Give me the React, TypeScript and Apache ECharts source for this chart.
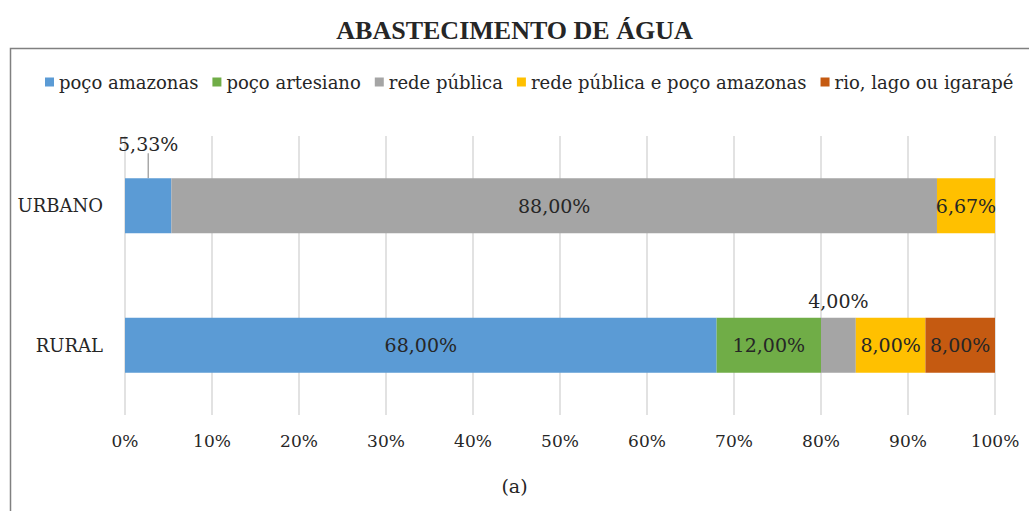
import React, { useEffect, useRef } from "react";
import * as echarts from "echarts";

const title = "ABASTECIMENTO DE ÁGUA";
const subtitle = "(a)";
const categories = ["RURAL", "URBANO"];
const seriesNames = [
  "poço amazonas",
  "poço artesiano",
  "rede pública",
  "rede pública e poço amazonas",
  "rio, lago ou igarapé",
];
const colors = ["#5B9BD5", "#70AD47", "#A5A5A5", "#FFC000", "#C55A11"];
// values per series: [RURAL, URBANO]
const pocoAmazonas = [68.0, 5.33];
const pocoArtesiano = [12.0, 0];
const redePublica = [4.0, 88.0];
const redePocoAmazonas = [8.0, 6.67];
const rioLagoIgarape = [8.0, 0];
const seriesValues = [pocoAmazonas, pocoArtesiano, redePublica, redePocoAmazonas, rioLagoIgarape];
const xTicks = [0, 10, 20, 30, 40, 50, 60, 70, 80, 90, 100];

const TITLE_FONT = "Liberation Serif";
const FONT = "DejaVu Serif";
const fmt = (v: number) => v.toFixed(2).replace(".", ",") + "%";

export default function App() {
  const ref = useRef<HTMLDivElement>(null);
  useEffect(() => {
    document.body.style.margin = "0";
    const chart = echarts.init(ref.current!, null, { renderer: "svg" });
    const series = seriesNames.map((name, si) => {
      const vals = seriesValues[si];
      return {
        name,
        type: "bar",
        stack: "total",
        barWidth: 55,
        itemStyle: { color: colors[si] },
        labelLayout: (p: any) => {
          const v = vals[p.dataIndex];
          if (v && v < 6 && categories[p.dataIndex] === "URBANO") return { dy: -18 };
          return {};
        },
        data: vals.map((v, ci) => {
          if (!v) return { value: 0, label: { show: false }, labelLine: { show: false } };
          const small = v < 6;
          const withLine = small && categories[ci] === "URBANO";
          return {
            value: v,
            label: small
              ? { show: true, position: "top", distance: 7 }
              : { show: true, position: "inside" },
            labelLine: { show: withLine, lineStyle: { color: "#7f7f7f", width: 1 } },
          };
        }),
        label: {
          show: true,
          formatter: (p: any) => fmt(p.value),
          fontFamily: FONT,
          fontSize: 19,
          color: "#262626",
        },
      };
    });
    chart.setOption({
      animation: false,
      textStyle: { fontFamily: FONT },
      title: {
        text: title,
        left: "center",
        top: 12,
        textStyle: { fontFamily: TITLE_FONT, fontSize: 26, fontWeight: "bold", color: "#262626" },
      },
      legend: {
        data: seriesNames,
        left: 40,
        right: 0,
        top: 68,
        icon: "rect",
        itemWidth: 9,
        itemHeight: 9,
        itemGap: 14,
        textStyle: { fontFamily: FONT, fontSize: 18, color: "#262626" },
      },
      grid: { left: 125, right: 34, top: 136, bottom: 96, containLabel: false },
      xAxis: {
        type: "value",
        min: xTicks[0],
        max: xTicks[xTicks.length - 1],
        interval: 10,
        axisLine: { show: false },
        axisTick: { show: false },
        splitLine: { lineStyle: { color: "#d9d9d9", width: 1.5 } },
        axisLabel: {
          formatter: "{value}%",
          fontFamily: FONT,
          fontSize: 17,
          color: "#262626",
          margin: 17,
        },
      },
      yAxis: {
        type: "category",
        data: categories,
        axisLine: { show: false },
        axisTick: { show: false },
        axisLabel: { fontFamily: FONT, fontSize: 18, color: "#262626", margin: 22 },
      },
      graphic: [
        {
          type: "rect",
          left: 8,
          top: 46,
          shape: { width: 1040, height: 480 },
          style: { fill: "none", stroke: "#808080", lineWidth: 1.5 },
          silent: true,
        },
        {
          type: "text",
          left: "center",
          top: 476,
          style: { text: subtitle, font: `19px ${FONT}`, fill: "#262626" },
        },
      ],
      series,
    });
    return () => chart.dispose();
  }, []);
  return <div ref={ref} style={{ width: 1029, height: 511 }} />;
}
